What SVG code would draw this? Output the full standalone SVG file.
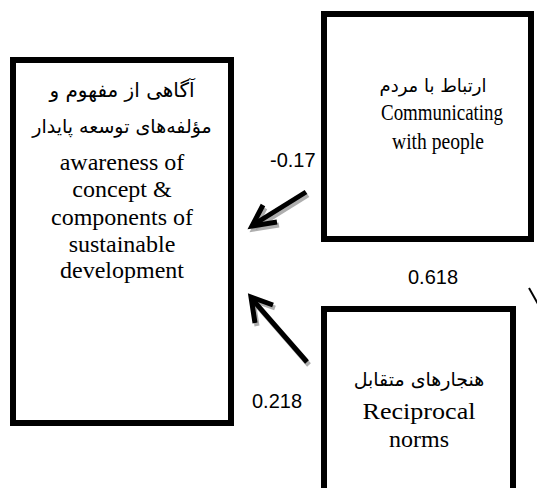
<svg xmlns="http://www.w3.org/2000/svg" width="537" height="488" viewBox="0 0 537 488">
<style>
.box{fill:#fff;stroke:#000;stroke-width:6}
.en{font-family:'Liberation Serif','DejaVu Serif',serif;font-size:24px;fill:#000;text-anchor:middle}
.fa{font-family:'DejaVu Sans',sans-serif;font-size:19px;fill:#000;text-anchor:middle;direction:rtl}
.lbl{font-family:'Liberation Sans','DejaVu Sans',sans-serif;font-size:20px;fill:#000}
.arr{fill:none;stroke:#000;stroke-width:5;stroke-linejoin:miter}
.sh{fill:none;stroke:#9a9a9a;stroke-width:5;stroke-linejoin:miter;opacity:0.8}
</style>
<rect width="537" height="488" fill="#fff"/>
<g id="awareness">
<rect class="box" x="13" y="60" width="218" height="363"/>
<text class="fa" x="122" y="97" style="font-size:20px">آگاهی از مفهوم و</text>
<text class="fa" x="122" y="133">مؤلفه‌های توسعه پایدار</text>
<text class="en" x="122" y="170">awareness of</text>
<text class="en" x="122" y="197">concept &amp;</text>
<text class="en" x="122" y="225">components of</text>
<text class="en" x="122" y="252">sustainable</text>
<text class="en" x="122" y="278">development</text>
</g>
<g id="communicating">
<rect class="box" x="324" y="14" width="207" height="225"/>
<text class="fa" x="433" y="92" style="font-size:18px">ارتباط با مردم</text>
<text class="en" x="442" y="120" textLength="122" lengthAdjust="spacingAndGlyphs">Communicating</text>
<text class="en" x="438" y="149" textLength="92" lengthAdjust="spacingAndGlyphs">with people</text>
</g>
<g id="reciprocal">
<rect class="box" x="324" y="309" width="189" height="200"/>
<text class="fa" x="419" y="386">هنجارهای متقابل</text>
<text class="en" x="419" y="419" textLength="113" lengthAdjust="spacingAndGlyphs">Reciprocal</text>
<text class="en" x="419" y="447">norms</text>
</g>
<g id="connectors">
<g transform="translate(2,3)">
<line class="sh" x1="306" y1="192" x2="253" y2="225"/>
<polyline class="sh" points="263,205 252,226 277,222"/>
<line class="sh" x1="307" y1="362" x2="252" y2="299"/>
<polyline class="sh" points="255,323 251,297 273,305"/>
</g>
<line class="arr" x1="306" y1="192" x2="253" y2="225"/>
<polyline class="arr" points="263,205 252,226 277,222"/>
<line class="arr" x1="307" y1="362" x2="252" y2="299"/>
<polyline class="arr" points="255,323 251,297 273,305"/>
<line x1="529" y1="288" x2="538" y2="304" stroke="#000" stroke-width="2"/>
</g>
<g id="labels">
<text class="lbl" x="270" y="167">-0.17</text>
<text class="lbl" x="408" y="284">0.618</text>
<text class="lbl" x="252" y="408">0.218</text>
</g>
</svg>
